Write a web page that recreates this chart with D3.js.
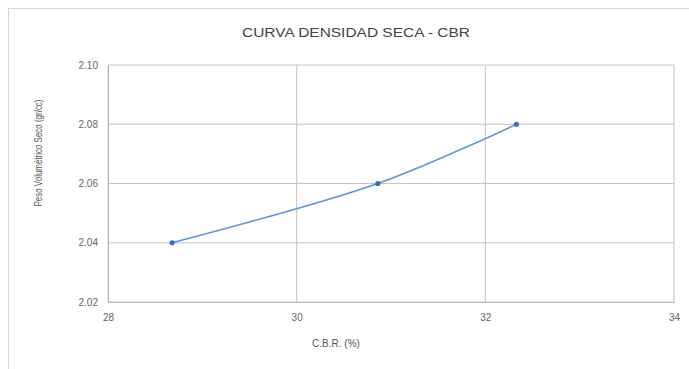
<!DOCTYPE html>
<meta charset="utf-8">
<style>
    body { margin: 0; background: #fff; }
    .tick text { font: 10px "Liberation Sans", Arial, sans-serif; fill: #666; }
    .title { font: 12px "Liberation Sans", Arial, sans-serif; fill: #444; }
    .axis-label { font: 10px "Liberation Sans", Arial, sans-serif; fill: #555; }
</style>
<body>
    <svg width="689" height="369"></svg>
</body>
<script src="https://d3js.org/d3.v7.min.js"></script>
<script>
    // valores
    var cbr = [28.68, 30.86, 32.33];
    var densidad = [2.04, 2.06, 2.08];
    var xTicks = [28, 30, 32, 34];
    var yTicks = [2.02, 2.04, 2.06, 2.08, 2.10];

    var svg = d3.select("svg");

    // marco del grafico
    svg.append("rect")
        .attr("x", 8.5).attr("y", 8.5)
        .attr("width", 700).attr("height", 400)
        .attr("fill", "none")
        .attr("stroke", "#d4d4d4");

    var x = d3.scaleLinear().domain([28, 34]).range([108, 674]);
    var y = d3.scaleLinear().domain([2.02, 2.10]).range([302, 65]);

    // grilla
    svg.append("g")
        .selectAll("line.v")
        .data(xTicks)
        .enter().append("line")
        .attr("x1", function (d) { return x(d); })
        .attr("x2", function (d) { return x(d); })
        .attr("y1", y(2.10)).attr("y2", y(2.02))
        .attr("stroke", "#c4c4c4");

    svg.append("g")
        .selectAll("line.h")
        .data(yTicks)
        .enter().append("line")
        .attr("y1", function (d) { return y(d); })
        .attr("y2", function (d) { return y(d); })
        .attr("x1", x(28)).attr("x2", x(34))
        .attr("stroke", "#c4c4c4");

    // ejes
    var xAxis = svg.append("g")
        .attr("transform", "translate(0," + y(2.02) + ")")
        .call(d3.axisBottom(x).tickValues(xTicks).tickSize(0).tickPadding(12).tickFormat(d3.format("d")));
    xAxis.select(".domain").attr("stroke", "#bbb");

    var yAxis = svg.append("g")
        .attr("transform", "translate(" + x(28) + ",0)")
        .call(d3.axisLeft(y).tickValues(yTicks).tickSize(0).tickPadding(10).tickFormat(d3.format(".2f")));
    yAxis.select(".domain").attr("stroke", "#bbb");

    // curva suavizada
    var line = d3.line()
        .x(function (d, i) { return x(cbr[i]); })
        .y(function (d) { return y(d); })
        .curve(d3.curveCatmullRom.alpha(0.5));

    svg.append("path")
        .datum(densidad)
        .attr("d", line)
        .attr("fill", "none")
        .attr("stroke", "#5b97d6")
        .attr("stroke-width", 1.6);

    svg.append("g")
        .selectAll("circle")
        .data(densidad)
        .enter().append("circle")
        .attr("cx", function (d, i) { return x(cbr[i]); })
        .attr("cy", function (d) { return y(d); })
        .attr("r", 2.6)
        .attr("fill", "#2f6fbf");

    // textos
    svg.append("text")
        .attr("class", "title")
        .attr("x", 356).attr("y", 37)
        .attr("text-anchor", "middle")
        .attr("textLength", 228)
        .attr("lengthAdjust", "spacingAndGlyphs")
        .text("CURVA  DENSIDAD SECA  -  CBR");

    svg.append("text")
        .attr("class", "axis-label")
        .attr("x", 336).attr("y", 347)
        .attr("text-anchor", "middle")
        .text("C.B.R. (%)");

    svg.append("text")
        .attr("class", "axis-label")
        .attr("transform", "translate(42,153) rotate(-90)")
        .attr("text-anchor", "middle")
        .attr("textLength", 107)
        .attr("lengthAdjust", "spacingAndGlyphs")
        .text("Peso Volumétrico Seco (gr/cc)");
</script>
